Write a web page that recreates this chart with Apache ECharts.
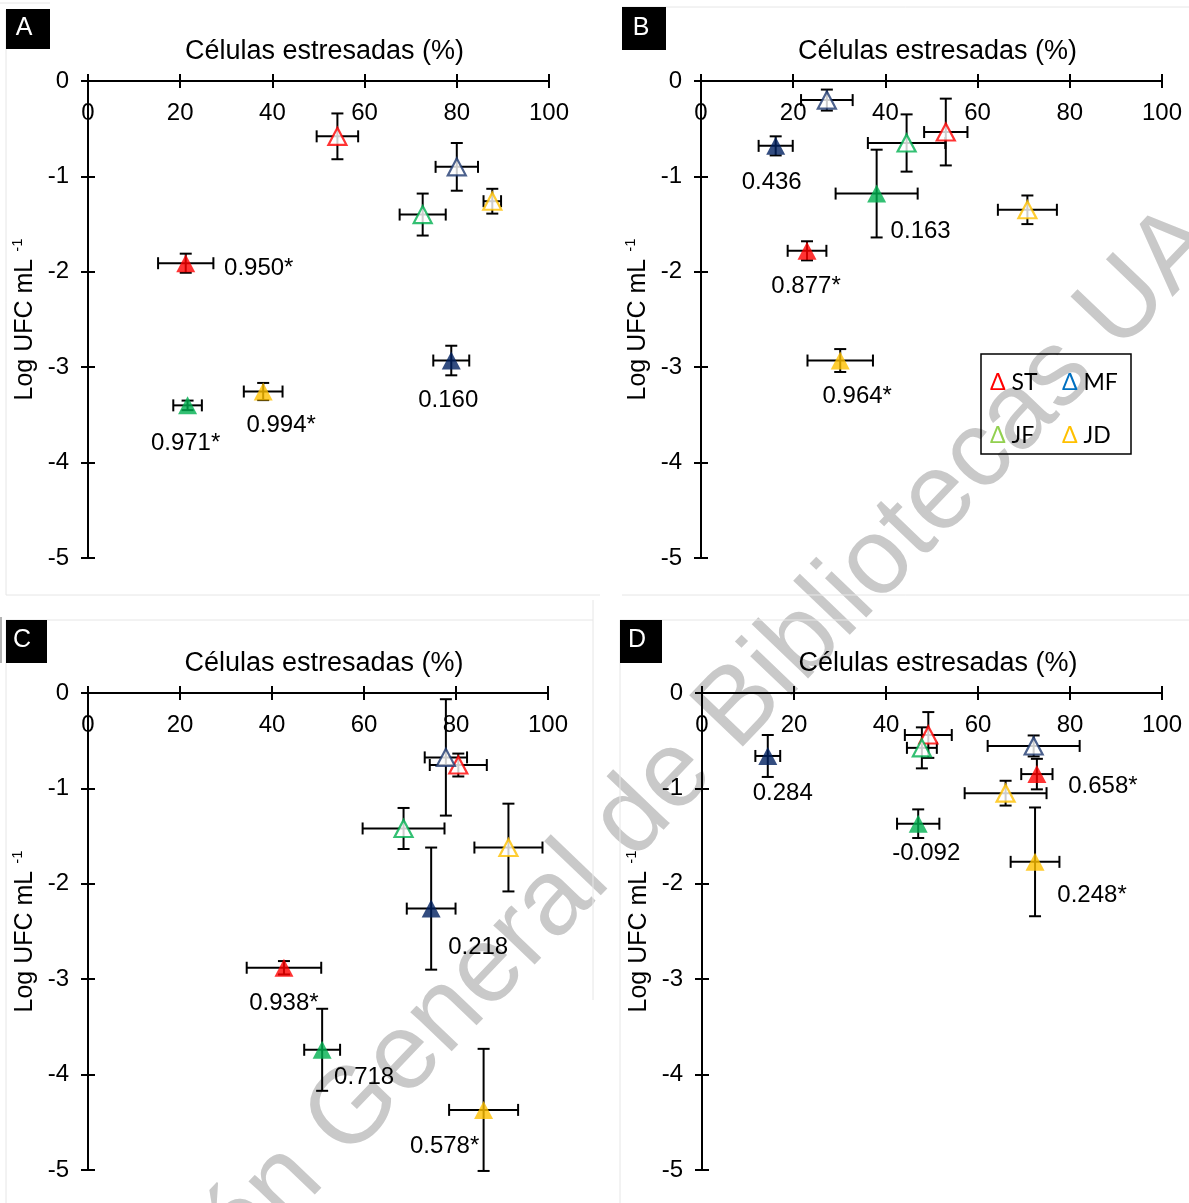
<!DOCTYPE html>
<html>
<head>
<meta charset="utf-8">
<title>Células estresadas vs Log UFC</title>
<script src="https://cdn.jsdelivr.net/npm/echarts@6/dist/echarts.min.js"></script>
<style>
  html, body { margin: 0; padding: 0; background: #ffffff; }
  #chart { width: 1189px; height: 1203px; }
</style>
</head>
<body>
<div id="chart"></div>
<script>
// Group order used by every array below: ST, MF, JF, JD
const groups = ['ST', 'MF', 'JF', 'JD'];

// Each point: [stressed cells (%), Log UFC mL-1, SD of %, SD of Log]
// Panel A
const aOpen   = [[54.1, -0.58, 4.5, 0.24], [80.0, -0.90, 4.6, 0.25], [72.6, -1.40, 5.0, 0.22], [87.7, -1.26, 1.9, 0.13]];
const aFilled = [[21.2, -1.91, 6.0, 0.10], [78.8, -2.93, 3.9, 0.155], [21.6, -3.40, 3.1, 0.05], [38.0, -3.255, 4.2, 0.09]];
const aR      = ['0.950*', '0.160', '0.971*', '0.994*'];
// Panel B
const bOpen   = [[53.1, -0.535, 4.7, 0.35], [27.3, -0.20, 5.6, 0.11], [44.6, -0.65, 8.4, 0.30], [70.8, -1.35, 6.4, 0.15]];
const bFilled = [[23.0, -1.78, 4.2, 0.10], [16.2, -0.68, 3.7, 0.10], [38.1, -1.18, 8.9, 0.46], [30.2, -2.93, 7.1, 0.12]];
const bR      = ['0.877*', '0.436', '0.163', '0.964*'];
// Panel C
const cOpen   = [[80.5, -0.755, 6.2, 0.12], [77.8, -0.675, 4.6, 0.61], [68.6, -1.42, 8.9, 0.215], [91.4, -1.62, 7.4, 0.46]];
const cFilled = [[42.6, -2.88, 8.1, 0.07], [74.6, -2.26, 5.3, 0.64], [50.9, -3.74, 3.9, 0.43], [86.0, -4.37, 7.5, 0.64]];
const cR      = ['0.938*', '0.218', '0.718', '0.578*'];
// Panel D
const dOpen   = [[49.2, -0.44, 5.1, 0.24], [72.1, -0.555, 10.0, 0.11], [47.8, -0.575, 3.25, 0.215], [66.0, -1.05, 8.9, 0.13]];
const dFilled = [[72.8, -0.85, 3.4, 0.16], [14.3, -0.66, 2.7, 0.22], [47.0, -1.37, 4.6, 0.15], [72.4, -1.77, 5.3, 0.57]];
const dR      = ['0.658*', '0.284', '-0.092', '0.248*'];

// Axis ticks
const xTicks = [0, 20, 40, 60, 80, 100];
const yTicks = [0, -1, -2, -3, -4, -5];

const panelLetters = ['A', 'B', 'C', 'D'];
const xTitle = 'Células estresadas (%)';

// ---- layout and styling ----
const FONT = '"Liberation Sans", Arial, Helvetica, sans-serif';
const fillColors = { ST: '#FF0000', MF: '#002060', JF: '#00B050', JD: '#FFC000' };
const openColors = { ST: '#FF0000', MF: '#1F3A70', JF: '#00B050', JD: '#FFC000' };
const legendColors = { ST: '#FF0000', MF: '#0070C0', JF: '#92D050', JD: '#FFC000' };

const gridRects = [
  { left: 88,  top: 81,  width: 461, height: 477 },
  { left: 701, top: 81,  width: 461, height: 477 },
  { left: 88,  top: 693, width: 460, height: 477 },
  { left: 702, top: 693, width: 460, height: 477 }
];
// text centre of each correlation label relative to its marker (px)
const labelOffsets = [
  [[73, 5],   [-3, 40],  [-2, 38],  [18, 34]],
  [[-1, 36],  [-4, 37],  [44, 38],  [17, 36]],
  [[0, 36],   [47, 39],  [42, 28],  [-39, 36]],
  [[66, 12],  [15, 37],  [8, 30],   [57, 34]]
];

const panels = [
  { open: aOpen, filled: aFilled, r: aR },
  { open: bOpen, filled: bFilled, r: bR },
  { open: cOpen, filled: cFilled, r: cR },
  { open: dOpen, filled: dFilled, r: dR }
];

const lineStyle = { color: '#000', width: 2 };
const xMin = xTicks[0], xMax = xTicks[xTicks.length - 1], xStep = xTicks[1] - xTicks[0];
const yMin = yTicks[yTicks.length - 1], yMax = yTicks[0], yStep = yTicks[0] - yTicks[1];

// Horizontal and vertical error bars with end caps
function errorBars(params, api) {
  const x = api.value(0), y = api.value(1), sx = api.value(2), sy = api.value(3);
  const l = api.coord([x - sx, y]), r = api.coord([x + sx, y]);
  const t = api.coord([x, y + sy]), b = api.coord([x, y - sy]);
  const c = 6;
  const style = { stroke: '#000', lineWidth: 2 };
  const seg = (x1, y1, x2, y2) => ({ type: 'line', shape: { x1, y1, x2, y2 }, style });
  return {
    type: 'group',
    children: [
      seg(l[0], l[1], r[0], r[1]),
      seg(l[0], l[1] - c, l[0], l[1] + c),
      seg(r[0], r[1] - c, r[0], r[1] + c),
      seg(t[0], t[1], b[0], b[1]),
      seg(t[0] - c, t[1], t[0] + c, t[1]),
      seg(b[0] - c, b[1], b[0] + c, b[1])
    ]
  };
}

const grid = [], xAxis = [], yAxis = [], series = [];

panels.forEach((p, i) => {
  grid.push(Object.assign({ containLabel: false }, gridRects[i]));

  // main x axis on top: outer ticks, labels underneath the line
  xAxis.push({
    gridIndex: i, type: 'value', position: 'top', min: xMin, max: xMax, interval: xStep,
    axisLine: { onZero: false, lineStyle },
    axisTick: { length: 7, lineStyle },
    axisLabel: { inside: true, margin: 20, color: '#000', fontSize: 24, fontFamily: FONT },
    splitLine: { show: false },
    name: xTitle, nameLocation: 'middle', nameGap: 16,
    nameTextStyle: { color: '#000', fontSize: 27, fontFamily: FONT, padding: [0, 0, 0, 12] }
  });
  // second x axis: inner half of the crossing ticks
  xAxis.push({
    gridIndex: i, type: 'value', position: 'top', min: xMin, max: xMax, interval: xStep,
    axisLine: { show: false }, axisTick: { inside: true, length: 7, lineStyle },
    axisLabel: { show: false }, splitLine: { show: false }
  });

  yAxis.push({
    gridIndex: i, type: 'value', position: 'left', min: yMin, max: yMax, interval: yStep,
    axisLine: { onZero: false, lineStyle },
    axisTick: { length: 7, lineStyle },
    axisLabel: { margin: 19, color: '#000', fontSize: 24, fontFamily: FONT },
    splitLine: { show: false },
    name: '{t|Log UFC mL }{s|-1}', nameLocation: 'middle', nameGap: 48, nameRotate: 90,
    nameTextStyle: {
      color: '#000', fontFamily: FONT,
      rich: {
        t: { fontSize: 25, fontFamily: FONT, color: '#000', lineHeight: 30 },
        s: { fontSize: 15, fontFamily: FONT, color: '#000', lineHeight: 14, verticalAlign: 'top' }
      }
    }
  });
  yAxis.push({
    gridIndex: i, type: 'value', position: 'left', min: yMin, max: yMax, interval: yStep,
    axisLine: { show: false }, axisTick: { inside: true, length: 7, lineStyle },
    axisLabel: { show: false }, splitLine: { show: false }
  });

  const xi = 2 * i, yi = 2 * i;
  series.push({
    type: 'custom', xAxisIndex: xi, yAxisIndex: yi, silent: true, clip: false, z: 2,
    renderItem: errorBars, encode: { x: 0, y: 1 },
    data: p.open.concat(p.filled)
  });
  series.push({
    type: 'scatter', xAxisIndex: xi, yAxisIndex: yi, silent: true, z: 3,
    symbol: 'triangle', symbolSize: [18, 17],
    data: p.open.map((d, k) => ({
      value: [d[0], d[1]],
      itemStyle: { color: '#ffffff', borderColor: openColors[groups[k]], borderWidth: 2.2 }
    }))
  });
  series.push({
    type: 'scatter', xAxisIndex: xi, yAxisIndex: yi, silent: true, z: 4,
    symbol: 'triangle', symbolSize: [19, 18],
    data: p.filled.map((d, k) => ({
      value: [d[0], d[1]],
      itemStyle: { color: fillColors[groups[k]] },
      label: {
        show: true, position: 'inside', offset: labelOffsets[i][k],
        formatter: p.r[k], color: '#000', fontSize: 24, fontFamily: FONT,
        textBorderWidth: 0, textBorderColor: 'transparent', opacity: 1
      }
    }))
  });
});

// ---- decorations: panel frames, letters, legend, watermark ----
const frameColor = '#e6e6e6';
const frameLine = (x1, y1, x2, y2) => ({
  type: 'line', z: -5, silent: true,
  shape: { x1, y1, x2, y2 }, style: { stroke: frameColor, lineWidth: 1 }
});
const frames = [
  frameLine(0, 3, 50, 3), frameLine(6, 10, 6, 595), frameLine(6, 595, 600, 595),
  frameLine(622, 7, 1189, 7), frameLine(622, 595, 1189, 595),
  frameLine(6, 620, 593, 620), frameLine(6, 620, 6, 1203), frameLine(593, 600, 593, 1000),
  frameLine(620, 620, 1189, 620), frameLine(620, 620, 620, 1203),
  { type: 'line', z: -5, silent: true, shape: { x1: 1, y1: 617, x2: 1, y2: 663 }, style: { stroke: '#9a9a9a', lineWidth: 1.5 } }
];

const letterBoxes = [
  { x: 6, y: 9, w: 44, h: 40, tx: 24, ty: 28 },
  { x: 622, y: 7, w: 44, h: 43, tx: 641, ty: 28 },
  { x: 6, y: 620, w: 41, h: 43, tx: 22, ty: 640 },
  { x: 620, y: 620, w: 42, h: 43, tx: 637, ty: 640 }
];
const letters = [];
letterBoxes.forEach((b, i) => {
  letters.push({ type: 'rect', z: 10, silent: true, shape: { x: b.x, y: b.y, width: b.w, height: b.h }, style: { fill: '#000' } });
  letters.push({
    type: 'text', z: 11, silent: true, x: b.tx, y: b.ty,
    style: { text: panelLetters[i], fill: '#fff', font: '25px ' + FONT, align: 'center', verticalAlign: 'middle', textAlign: 'center', textVerticalAlign: 'middle' }
  });
});

// legend (panel B)
const legendPos = [[990, 383], [1062, 383], [990, 436], [1062, 436]];
const legendItems = [
  { type: 'rect', z: 10, silent: true, shape: { x: 981, y: 354, width: 150, height: 100 }, style: { fill: 'none', stroke: '#000', lineWidth: 1.5 } }
];
groups.forEach((g, k) => {
  legendItems.push({
    type: 'text', z: 11, silent: true, x: legendPos[k][0], y: legendPos[k][1],
    style: {
      text: '{d|Δ} ' + g, fill: '#000', font: '23px Lato, "DejaVu Sans", sans-serif',
      align: 'left', verticalAlign: 'middle', textAlign: 'left', textVerticalAlign: 'middle',
      rich: { d: { fill: legendColors[g], color: legendColors[g], fontSize: 23, fontFamily: 'Lato, "DejaVu Sans", sans-serif' } }
    }
  });
});

const watermark = {
  type: 'text', z: -10, silent: true, x: 622, y: 830, rotation: 46.3 * Math.PI / 180,
  style: {
    text: 'Dirección General de Bibliotecas UAA', fill: '#c9c9c9', font: '108px ' + FONT,
    align: 'center', verticalAlign: 'middle', textAlign: 'center', textVerticalAlign: 'middle'
  }
};

const chart = echarts.init(document.getElementById('chart'), null, { renderer: 'canvas' });
chart.setOption({
  backgroundColor: '#ffffff',
  animation: false,
  textStyle: { fontFamily: FONT },
  grid, xAxis, yAxis, series,
  graphic: [watermark].concat(frames, letters, legendItems)
});
</script>
</body>
</html>
